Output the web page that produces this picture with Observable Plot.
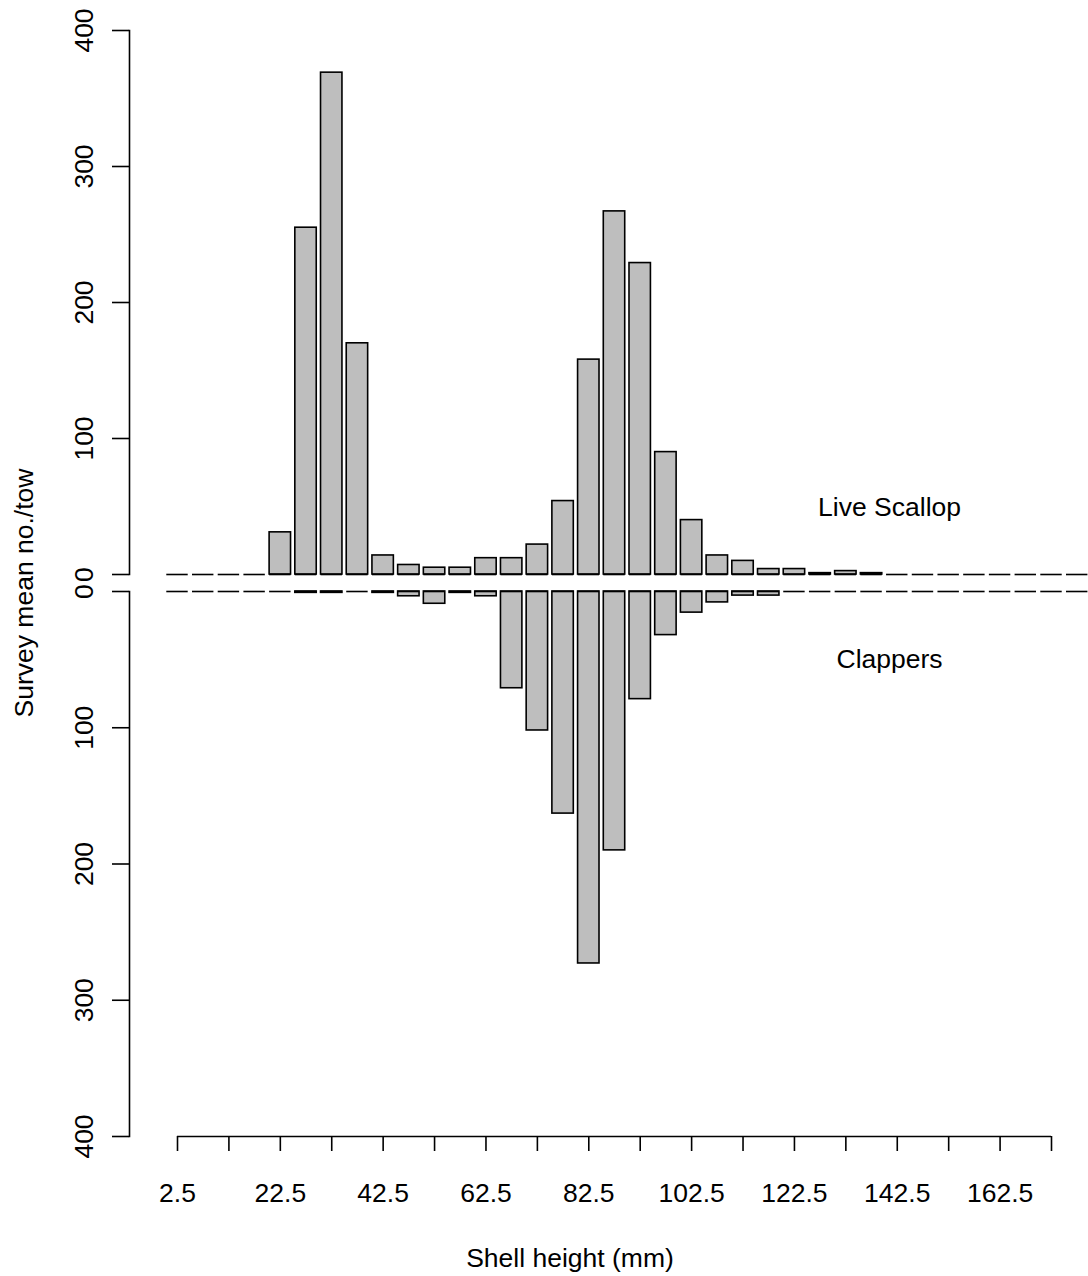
<!DOCTYPE html>
<html>
<head>
<meta charset="utf-8">
<script src="https://cdn.jsdelivr.net/npm/d3@7"></script>
<script src="https://cdn.jsdelivr.net/npm/@observablehq/plot@0.6"></script>
<style>
  body { margin: 0; background: #fff; }
  #chart { position: relative; width: 1088px; height: 1276px; font-family: "Liberation Sans", Arial, sans-serif; color: #000; }
  #chart > svg { position: absolute; left: 0; }
</style>
</head>
<body>
<div id="chart"></div>
<script>
// Shell-height bins (mm, bin centres)
const bins = [2.5, 7.5, 12.5, 17.5, 22.5, 27.5, 32.5, 37.5, 42.5, 47.5, 52.5, 57.5,
  62.5, 67.5, 72.5, 77.5, 82.5, 87.5, 92.5, 97.5, 102.5, 107.5, 112.5, 117.5,
  122.5, 127.5, 132.5, 137.5, 142.5, 147.5, 152.5, 157.5, 162.5, 167.5, 172.5, 177.5];
// Survey mean no./tow – live scallops
const liveScallop = [0, 0, 0, 0, 31, 255, 369, 170, 14, 7, 5, 5,
  12, 12, 22, 54, 158, 267, 229, 90, 40, 14, 10, 4,
  4, 1, 2.5, 1, 0, 0, 0, 0, 0, 0, 0, 0];
// Survey mean no./tow – clappers
const clappers = [0, 0, 0, 0, 0, 1, 1, 0, 1, 3.5, 9, 1,
  3.5, 71, 102, 163, 273, 190, 79, 32, 15.5, 8, 3, 3,
  0, 0, 0, 0, 0, 0, 0, 0, 0, 0, 0, 0];
const yTicks = [0, 100, 200, 300, 400];
const xTicks = [2.5, 12.5, 22.5, 32.5, 42.5, 52.5, 62.5, 72.5, 82.5, 92.5,
  102.5, 112.5, 122.5, 132.5, 142.5, 152.5, 162.5, 172.5];
const xTickLabels = ["2.5", "22.5", "42.5", "62.5", "82.5", "102.5", "122.5", "142.5", "162.5"];
const panelLabels = ["Live Scallop", "Clappers"];
const xTitle = "Shell height (mm)";
const yTitle = "Survey mean no./tow";

const FONT = "\"Liberation Sans\", Arial, sans-serif";
const FS = 26.5;
const SW = 1.6;
const labelled = new Set(xTickLabels);

const toRows = (vals) => bins.map((b, i) => ({ mid: b, lo: b - 2.5, hi: b + 2.5, value: vals[i] }));
const liveRows = toRows(liveScallop);
const clapRows = toRows(clappers);

const xScale = { type: "linear", domain: [2.5, 172.5], range: [177, 1051], axis: null };
const baseStyle = { fontFamily: FONT, fontSize: FS + "px", color: "#000", background: "transparent", overflow: "visible" };

function barMarks(rows) {
  return [
    Plot.rect(rows, { x1: "lo", x2: "hi", y1: 0, y2: "value", insetLeft: 2.14, insetRight: 2.14,
      fill: "#bebebe", stroke: "#000", strokeWidth: SW }),
    Plot.ruleY(rows, { x1: "lo", x2: "hi", y: 0, insetLeft: 2.14, insetRight: 2.14,
      stroke: "#000", strokeWidth: SW })
  ];
}
function yAxisMarks() {
  return [
    Plot.frame({ anchor: "left", stroke: "#000", strokeWidth: SW }),
    Plot.axisY({ anchor: "left", ticks: yTicks, tickSize: 17, tickPadding: 20, tickRotate: -90,
      label: null, stroke: "#000", strokeWidth: SW, fill: "#000", fontSize: FS })
  ];
}

const topPlot = Plot.plot({
  width: 1088, height: 582,
  marginTop: 30, marginBottom: 8, marginLeft: 129, marginRight: 37,
  style: baseStyle,
  x: xScale,
  y: { domain: [0, 400], range: [574, 30], axis: null },
  marks: [
    ...yAxisMarks(),
    ...barMarks(liveRows),
    Plot.text([panelLabels[0]], { x: 141, y: 49, text: d => d, fontSize: FS, fill: "#000", lineAnchor: "middle" })
  ]
});
topPlot.style.top = "0px";

const bottomPlot = Plot.plot({
  width: 1088, height: 694,
  marginTop: 9, marginBottom: 140, marginLeft: 129, marginRight: 37,
  style: baseStyle,
  x: xScale,
  y: { domain: [0, 400], range: [9, 554], axis: null },
  marks: [
    ...yAxisMarks(),
    ...barMarks(clapRows),
    Plot.text([panelLabels[1]], { x: 141, y: 50, text: d => d, fontSize: FS, fill: "#000", lineAnchor: "middle" }),
    Plot.ruleY([400], { x1: xTicks[0], x2: xTicks[xTicks.length - 1], stroke: "#000", strokeWidth: SW }),
    Plot.axisX({ anchor: "bottom", ticks: xTicks, tickSize: 15, tickPadding: 32, label: null,
      tickFormat: d => labelled.has(String(d)) ? String(d) : "",
      stroke: "#000", strokeWidth: SW, fill: "#000", fontSize: FS })
  ]
});
bottomPlot.style.top = "582px";

const chart = document.getElementById("chart");
chart.appendChild(topPlot);
chart.appendChild(bottomPlot);

// Axis titles
const titles = d3.create("svg")
  .attr("width", 1088).attr("height", 1276)
  .style("top", "0px").style("pointer-events", "none")
  .attr("font-family", FONT).attr("font-size", FS).attr("fill", "#000");
titles.append("text").attr("x", 570).attr("y", 1267).attr("text-anchor", "middle").text(xTitle);
titles.append("text").attr("transform", "translate(33,593) rotate(-90)").attr("text-anchor", "middle").text(yTitle);
chart.appendChild(titles.node());
</script>
</body>
</html>
